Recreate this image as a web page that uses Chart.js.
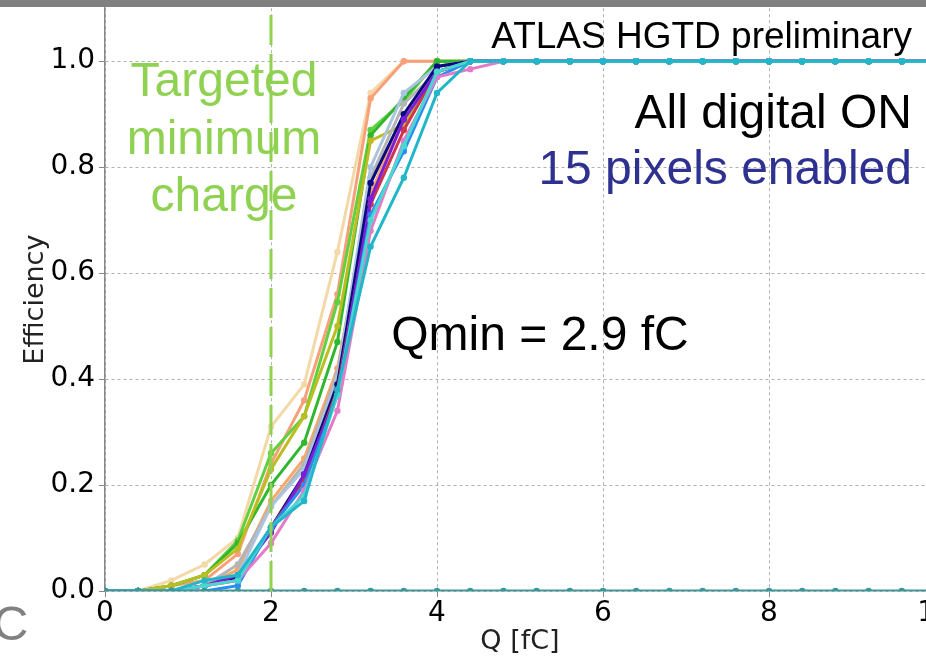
<!DOCTYPE html>
<html>
<head>
<meta charset="utf-8">
<script src="https://cdn.jsdelivr.net/npm/chart.js@4"></script>
<style>
  html, body { margin: 0; padding: 0; background: #fff; overflow: hidden; width: 926px; height: 659px; }
  canvas { display: block; }
</style>
</head>
<body>
<canvas id="myChart" width="960" height="659"></canvas>
<script>
// charge points of the threshold scan (fC)
const charge = [0, 0.4, 0.8, 1.2, 1.6, 2.0, 2.4, 2.8, 3.2, 3.6, 4.0, 4.4, 4.8, 5.2, 5.6, 6.0, 6.4, 6.8, 7.2, 7.6, 8.0, 8.4, 8.8, 9.2, 9.6, 10.0];

// efficiency per pixel
const effWheat = [0, 0, 0.02, 0.05, 0.10, 0.31, 0.39, 0.64, 0.94, 1.0, 1.0, 1.0, 1, 1, 1, 1, 1, 1, 1, 1, 1, 1, 1, 1, 1, 1];
const effSalmon = [0, 0, 0.01, 0.02, 0.07, 0.24, 0.36, 0.56, 0.93, 1.0, 1.0, 1.0, 1, 1, 1, 1, 1, 1, 1, 1, 1, 1, 1, 1, 1, 1];
const effLime = [0, 0, 0.01, 0.03, 0.095, 0.26, 0.33, 0.545, 0.87, 0.925, 1.0, 1.0, 1, 1, 1, 1, 1, 1, 1, 1, 1, 1, 1, 1, 1, 1];
const effGreen = [0, 0, 0.01, 0.03, 0.09, 0.20, 0.28, 0.47, 0.86, 0.93, 1.0, 1.0, 1, 1, 1, 1, 1, 1, 1, 1, 1, 1, 1, 1, 1, 1];
const effOlive = [0, 0, 0.01, 0.03, 0.08, 0.23, 0.33, 0.50, 0.85, 0.88, 0.99, 1.0, 1, 1, 1, 1, 1, 1, 1, 1, 1, 1, 1, 1, 1, 1];
const effSandy = [0, 0, 0, 0.01, 0.04, 0.17, 0.25, 0.42, 0.75, 0.90, 0.98, 1.0, 1, 1, 1, 1, 1, 1, 1, 1, 1, 1, 1, 1, 1, 1];
const effGray = [0, 0, 0, 0.01, 0.05, 0.16, 0.24, 0.41, 0.78, 0.92, 0.98, 1.0, 1, 1, 1, 1, 1, 1, 1, 1, 1, 1, 1, 1, 1, 1];
const effSteel = [0, 0, 0, 0.01, 0.03, 0.16, 0.23, 0.40, 0.80, 0.94, 0.99, 1.0, 1, 1, 1, 1, 1, 1, 1, 1, 1, 1, 1, 1, 1, 1];
const effNavy = [0, 0, 0, 0.01, 0.025, 0.12, 0.22, 0.39, 0.77, 0.90, 0.99, 1.0, 1, 1, 1, 1, 1, 1, 1, 1, 1, 1, 1, 1, 1, 1];
const effRed = [0, 0, 0, 0.01, 0.02, 0.12, 0.21, 0.38, 0.73, 0.87, 0.98, 1.0, 1, 1, 1, 1, 1, 1, 1, 1, 1, 1, 1, 1, 1, 1];
const effPurple = [0, 0, 0, 0.01, 0.03, 0.11, 0.22, 0.37, 0.74, 0.89, 0.98, 1.0, 1, 1, 1, 1, 1, 1, 1, 1, 1, 1, 1, 1, 1, 1];
const effBlue = [0, 0, 0, 0, 0.01, 0.12, 0.20, 0.37, 0.71, 0.83, 0.97, 1.0, 1, 1, 1, 1, 1, 1, 1, 1, 1, 1, 1, 1, 1, 1];
const effPink = [0, 0, 0, 0.01, 0.02, 0.09, 0.19, 0.34, 0.68, 0.85, 0.97, 0.985, 1, 1, 1, 1, 1, 1, 1, 1, 1, 1, 1, 1, 1, 1];
const effTurq = [0, 0, 0, 0.01, 0.02, 0.12, 0.18, 0.37, 0.70, 0.84, 0.98, 1.0, 1, 1, 1, 1, 1, 1, 1, 1, 1, 1, 1, 1, 1, 1];
const effCyan = [0, 0, 0, 0.02, 0.03, 0.12, 0.17, 0.38, 0.65, 0.78, 0.94, 1.0, 1, 1, 1, 1, 1, 1, 1, 1, 1, 1, 1, 1, 1, 1];
const effDead = [0, 0, 0, 0, 0, 0, 0, 0, 0, 0, 0, 0, 0, 0, 0, 0, 0, 0, 0, 0, 0, 0, 0, 0, 0, 0];

// targeted minimum charge marker
const targetX = [2, 2];
const targetY = [0, 1.1];

const xTicks = [0, 2, 4, 6, 8, 10];
const yTicks = [0, 0.2, 0.4, 0.6, 0.8, 1.0];

const toPoints = (xs, ys) => xs.map((x, i) => ({ x: x, y: ys[i] }));

const pixel = (data, color) => ({
    data: toPoints(charge, data),
    borderColor: color,
    backgroundColor: color,
    borderWidth: 3,
    pointRadius: 3.2,
    pointBorderWidth: 0,
    tension: 0
});

const annotations = {
    id: 'annotations',
    beforeDatasetsDraw(chart) {
        const ctx = chart.ctx;
        ctx.save();
        ctx.textAlign = 'right';
        ctx.textBaseline = 'alphabetic';
        ctx.fillStyle = '#000';
        ctx.font = '37px "Liberation Sans", Arial, sans-serif';
        ctx.fillText('ATLAS HGTD preliminary', 912, 48);
        ctx.font = '48px "Liberation Sans", Arial, sans-serif';
        ctx.fillText('All digital ON', 912, 128);
        ctx.fillStyle = '#2e318f';
        ctx.fillText('15 pixels enabled', 912, 184);
        ctx.fillStyle = '#000';
        ctx.textAlign = 'center';
        ctx.fillText('Qmin = 2.9 fC', 540, 350);
        ctx.fillStyle = '#8fd150';
        ctx.fillText('Targeted', 224, 96);
        ctx.fillText('minimum', 224, 154);
        ctx.fillText('charge', 224, 211);
        ctx.restore();
    },
    afterDraw(chart) {
        const ctx = chart.ctx;
        ctx.save();
        ctx.fillStyle = '#808080';
        ctx.fillRect(0, 0, chart.width, 7);
        ctx.font = '49px "Liberation Sans", Arial, sans-serif';
        ctx.textAlign = 'left';
        ctx.fillText('C', -7, 640);
        ctx.restore();
    }
};

const ctx = document.getElementById('myChart').getContext('2d');
new Chart(ctx, {
    type: 'line',
    data: {
        datasets: [
            {
                data: toPoints(targetX, targetY),
                borderColor: '#8fd150',
                borderWidth: 3,
                borderDash: [30, 9],
                pointRadius: 0
            },
            pixel(effDead, '#2f9c9f'),
            pixel(effCyan, '#22b6c9'),
            pixel(effTurq, '#48d8d0'),
            pixel(effPink, '#e57ac8'),
            pixel(effBlue, '#2a8ef0'),
            pixel(effPurple, '#7b1fd6'),
            pixel(effRed, '#d0344a'),
            pixel(effNavy, '#0a0a80'),
            pixel(effSteel, '#aac4e0'),
            pixel(effGray, '#b4b4b4'),
            pixel(effSandy, '#f5a868'),
            pixel(effOlive, '#bcbd22'),
            pixel(effGreen, '#2fb82f'),
            pixel(effLime, '#5fd13f'),
            pixel(effSalmon, '#f9a07a'),
            pixel(effWheat, '#f3d9a8')
        ]
    },
    options: {
        responsive: false,
        animation: false,
        devicePixelRatio: 1,
        layout: { padding: { top: 5, right: 25, left: 0, bottom: 0 } },
        plugins: {
            legend: { display: false },
            tooltip: { enabled: false }
        },
        scales: {
            x: {
                type: 'linear',
                min: 0,
                max: 10,
                afterBuildTicks: (scale) => { scale.ticks = xTicks.map(v => ({ value: v })); },
                afterFit: (scale) => { scale.height = 68; },
                ticks: {
                    color: '#000',
                    padding: 0,
                    font: { family: '"DejaVu Sans"', size: 28 },
                    callback: (v) => String(v)
                },
                grid: { color: '#b0b0b0', lineWidth: 1, tickLength: 6, tickColor: '#888' },
                border: { color: '#888', width: 1.5, dash: [3, 3] },
                title: {
                    display: true,
                    text: 'Q [fC]',
                    color: '#222',
                    font: { family: '"DejaVu Sans"', size: 27 },
                    padding: { top: 0, bottom: 1 }
                }
            },
            y: {
                type: 'linear',
                min: 0,
                max: 1.1,
                afterBuildTicks: (scale) => { scale.ticks = yTicks.map(v => ({ value: v })); },
                afterFit: (scale) => { scale.width = 105; },
                ticks: {
                    color: '#000',
                    padding: 4,
                    font: { family: '"DejaVu Sans"', size: 28, lineHeight: 0.3 },
                    callback: (v) => v.toFixed(1)
                },
                grid: { color: '#b0b0b0', lineWidth: 1, tickLength: 6, tickColor: '#888' },
                border: { color: '#888', width: 1.5, dash: [3, 3] },
                title: {
                    display: true,
                    text: 'Efficiency',
                    color: '#222',
                    font: { family: '"DejaVu Sans"', size: 27 },
                    padding: { top: 20, bottom: 0 }
                }
            }
        }
    },
    plugins: [annotations]
});
</script>
</body>
</html>
